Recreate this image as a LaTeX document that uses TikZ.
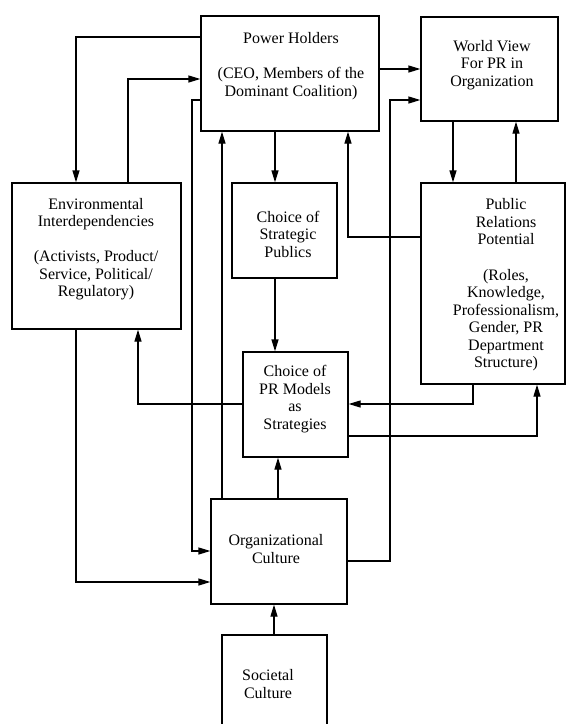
\documentclass[tikz,border=0pt]{standalone}
\usepackage{fontspec}
\setmainfont{Liberation Serif}
\usetikzlibrary{arrows.meta}
\begin{document}
\begin{tikzpicture}[x=1pt,y=-1pt,
  box/.style={draw, line width=1.3pt, inner sep=0pt},
  txt/.style={align=center, inner sep=0pt, text=black,
    font=\fontsize{16}{17.5}\selectfont},
  arr/.style={line width=1.3pt, -{Triangle[length=12pt,width=7pt]}}]
\useasboundingbox (0,0) rectangle (569,724);
\clip (0,0) rectangle (569,724);
\fill[white] (0,0) rectangle (569,724);

% boxes
\node[box, minimum width=178pt, minimum height=115pt] (ph)  at (290,73.5)  {};
\node[box, minimum width=137pt, minimum height=104pt] (wv)  at (489.5,69)  {};
\node[box, minimum width=169pt, minimum height=146pt] (env) at (96.5,256)  {};
\node[box, minimum width=105pt, minimum height=95pt]  (csp) at (284.5,230.5) {};
\node[box, minimum width=144pt, minimum height=201pt] (prp) at (493,283.5) {};
\node[box, minimum width=105pt, minimum height=105pt] (prm) at (295.5,404.5) {};
\node[box, minimum width=136pt, minimum height=105pt] (oc)  at (279,551.5) {};
\node[box, minimum width=105pt, minimum height=105pt] (sc)  at (274.5,687.5) {};

% labels
\node[txt] (phT)  at (291,66)  {Power Holders\\[18pt](CEO, Members of the\\Dominant Coalition)};
\node[txt] (wvT)  at (492,65)  {World View\\For PR in\\Organization};
\node[txt] (envT) at (96,249)  {Environmental\\Interdependencies\\[17.5pt](Activists, Product/\\Service, Political/\\Regulatory)};
\node[txt] (cspT) at (288,234) {Choice of\\Strategic\\Publics};
\node[txt] (prpT) at (506,285) {Public\\Relations\\Potential\\[18pt](Roles,\\Knowledge,\\Professionalism,\\Gender, PR\\Department\\Structure)};
\node[txt] (prmT) at (295,399) {Choice of\\PR Models\\as\\Strategies};
\node[txt] (ocT)  at (276,549) {Organizational\\Culture};
\node[txt] (scT)  at (268,684) {Societal\\Culture};

% connectors
\draw[arr] (ph.west |- 0,37) -| (76,0 |- env.north);
\draw[arr] (128,0 |- env.north) |- (ph.west |- 0,79);
\draw[arr] (ph.west |- 0,100) -| (192,551) -- (oc.west |- 0,551);
\draw[arr] (222,0 |- oc.north) -- (222,0 |- ph.south);
\draw[arr] (275,0 |- ph.south) -- (275,0 |- csp.north);
\draw[arr] (ph.east |- 0,69) -- (wv.west |- 0,69);
\draw[arr] (oc.east |- 0,561) -| (390,100) -- (wv.west |- 0,100);
\draw[arr] (453,0 |- wv.south) -- (453,0 |- prp.north);
\draw[arr] (516,0 |- prp.north) -- (516,0 |- wv.south);
\draw[arr] (prp.west |- 0,237) -| (348,0 |- ph.south);
\draw[arr] (275,0 |- csp.south) -- (275,0 |- prm.north);
\draw[arr] (prm.west |- 0,404) -| (138,0 |- env.south);
\draw[arr] (473,0 |- prp.south) |- (prm.east |- 0,404);
\draw[arr] (prm.east |- 0,436) -| (537,0 |- prp.south);
\draw[arr] (278,0 |- oc.north) -- (278,0 |- prm.south);
\draw[arr] (76,0 |- env.south) |- (oc.west |- 0,582);
\draw[arr] (274,0 |- sc.north) -- (274,0 |- oc.south);
\end{tikzpicture}
\end{document}
